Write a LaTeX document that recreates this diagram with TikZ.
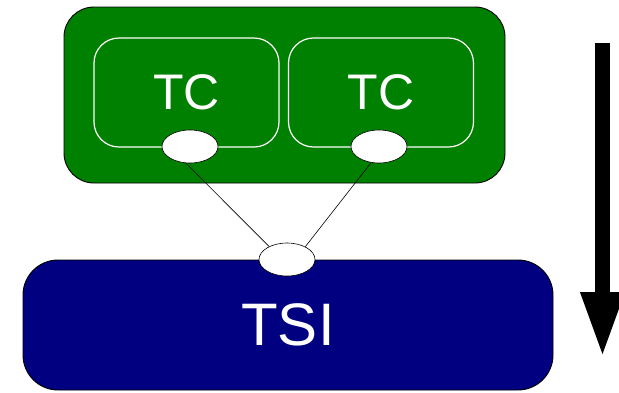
\documentclass[tikz,border=0pt]{standalone}
\usepackage{fontspec}
\setmainfont{Liberation Sans}
\usetikzlibrary{shapes.geometric,arrows.meta}
\definecolor{tcgreen}{RGB}{0,128,0}
\definecolor{tsiblue}{RGB}{0,0,128}
\begin{document}
\begin{tikzpicture}[x=1pt,y=-1pt,
    outerbox/.style={shape=rectangle,draw=black,line width=0.9pt,inner sep=0pt},
    tcbox/.style={shape=rectangle,draw=white,line width=1.2pt,rounded corners=25pt,inner sep=0pt,
        minimum width=185pt,minimum height=109pt,text=white,font=\fontsize{50}{60}\selectfont},
    port/.style={shape=ellipse,draw=black,fill=white,line width=0.6pt,inner sep=0pt,
        minimum width=56pt,minimum height=33pt}]
            \useasboundingbox (0,0) rectangle (619,392);
            \node[outerbox,fill=tcgreen,rounded corners=30pt,minimum width=441pt,minimum height=176pt] (G) at (284.5,95) {};
            \node[tcbox] (TC1) at (186.5,92.5) {TC};
            \node[tcbox] (TC2) at (381,92.5) {TC};
            \node[outerbox,fill=tsiblue,rounded corners=35pt,minimum width=530pt,minimum height=130pt,
                text=white,font=\fontsize{60}{72}\selectfont] (TSI) at (288,325) {TSI};
            \node[port] (P1) at (190,146.5) {};
            \node[port] (P2) at (379,146.5) {};
            \node[port] (P3) at (287,259.5) {};
            \path [draw=black,line width=0.6pt] (P1.256) edge (P3.144);
            \path [draw=black,line width=0.6pt] (P2.244) edge (P3.35);
            \coordinate (top) at (602.5,43);
            \coordinate (tip) at (602.5,358);
            \draw [line width=15pt,-{Triangle[width=40pt,length=66pt]}] (top) -- (tip);
        \end{tikzpicture}
\end{document}
